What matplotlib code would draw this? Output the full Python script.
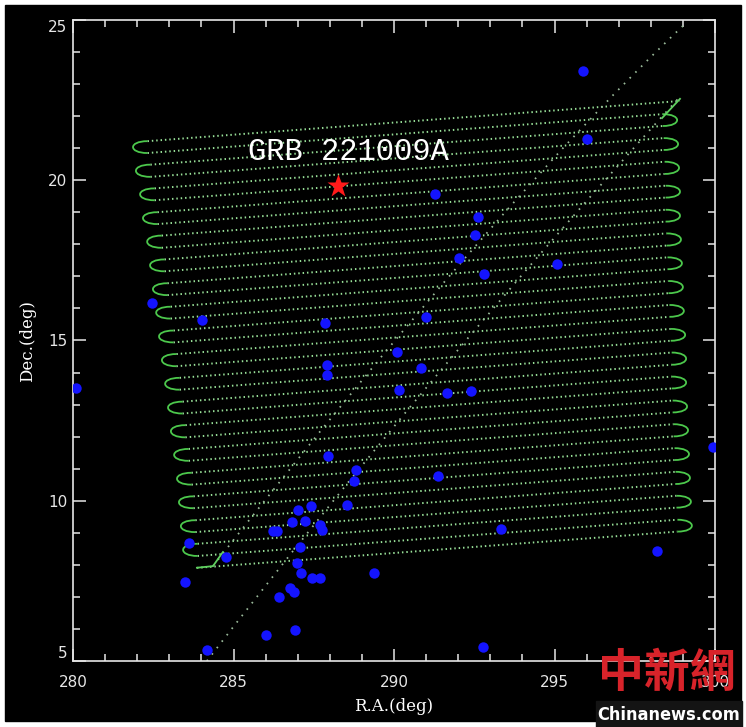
import matplotlib
matplotlib.use("Agg")
import matplotlib.pyplot as plt
from matplotlib.path import Path
from matplotlib.patches import PathPatch, Rectangle
from matplotlib.ticker import MultipleLocator

# scan rows: Dec of each row at R.A. = 290 (rows tilt up to the right)
row_dec = [21.80, 21.43, 21.06, 20.68, 20.31, 19.94, 19.56, 19.19, 18.82,
           18.44, 18.07, 17.70, 17.32, 16.95, 16.58, 16.21, 15.83, 15.46,
           15.09, 14.71, 14.34, 13.97, 13.59, 13.22, 12.85, 12.47, 12.10,
           11.73, 11.35, 10.98, 10.61, 10.24, 9.86, 9.49, 9.12, 8.74, 8.37]
row_tilt = 0.0756

# tip R.A. of the turnarounds (left joins rows 0-1, 2-3 ...; right joins rows 1-2, 3-4 ...)
left_turn_ra = [281.87, 281.96, 282.09, 282.18, 282.31, 282.40, 282.49, 282.59, 282.68,
                282.77, 282.87, 282.96, 283.05, 283.15, 283.24, 283.30, 283.36, 283.43]
right_turn_ra = [298.82, 298.85, 298.88, 298.91, 298.91, 298.94, 298.97, 299.00, 299.03,
                 299.07, 299.10, 299.10, 299.13, 299.16, 299.19, 299.22, 299.25, 299.28]
turn_depth = 0.45
first_row_end = 298.91
last_row_start = 283.86

# slew tracks: start, control, end
slew_a = [(284.36, 7.96), (293.44, 19.58), (299.07, 24.88)]
slew_b = [(284.17, 5.00), (291.10, 14.01), (298.85, 22.54)]
link_in_ra, link_in_dec = [283.86, 284.36, 284.67], [7.91, 7.96, 8.40]
link_out_ra, link_out_dec = [298.35, 298.91], [21.94, 22.54]

# sources
src_ra = [295.89, 296.01, 291.28, 292.62, 292.52, 292.02, 292.80, 295.08, 291.00,
          282.46, 284.02, 287.85, 290.09, 287.91, 287.91, 290.84, 291.65, 292.40,
          290.16, 280.09, 287.94, 288.82, 288.75, 288.54, 291.37, 299.94, 293.33,
          283.61, 284.77, 283.49, 298.19, 289.38, 292.77, 284.17, 286.01, 286.92,
          287.41, 287.01, 286.82, 287.23, 287.69, 287.76, 286.23, 286.36, 287.07,
          286.98, 287.10, 287.45, 287.69, 286.76, 286.88, 286.42]
src_dec = [23.41, 21.29, 19.57, 18.85, 18.29, 17.57, 17.07, 17.39, 15.73,
           16.17, 15.64, 15.55, 14.64, 14.24, 13.92, 14.14, 13.36, 13.42,
           13.46, 13.52, 11.40, 10.96, 10.62, 9.87, 10.77, 11.68, 9.12,
           8.68, 8.24, 7.46, 8.43, 7.75, 5.44, 5.34, 5.81, 5.97,
           9.84, 9.71, 9.34, 9.37, 9.24, 9.09, 9.06, 9.06, 8.56,
           8.06, 7.75, 7.59, 7.59, 7.28, 7.15, 7.00]
grb_ra, grb_dec = 288.26, 19.82


def row_y(k, x):
    return row_dec[k] + row_tilt * (x - 290)


fig = plt.figure(figsize=(7.46, 7.27), dpi=100, facecolor="white")
fig.patches.append(Rectangle((5 / 746, 6 / 727), 736 / 746, 716 / 727,
                             transform=fig.transFigure, color="black", zorder=-5))
ax = fig.add_axes([73 / 746, 66 / 727, 642 / 746, 641 / 727])
ax.set_facecolor("black")
ax.set_xlim(280, 300)
ax.set_ylim(5, 25)

# straight scan rows (dotted)
n = len(row_dec)
for k in range(n):
    xl = last_row_start if k == n - 1 else left_turn_ra[k // 2] + turn_depth
    xr = first_row_end if k == 0 else right_turn_ra[(k - 1) // 2] - turn_depth
    ax.plot([xl, xr], [row_y(k, xl), row_y(k, xr)], color="#98e098", lw=1.4,
            ls=(0, (0.75, 1.5)), zorder=2)

# turnarounds
verts, codes = [], []
d = turn_depth / 0.75
for j, tip in enumerate(left_turn_ra):
    x0 = tip + turn_depth
    y1, y2 = row_y(2 * j, x0), row_y(2 * j + 1, x0)
    verts += [(x0, y1), (x0 - d, y1), (x0 - d, y2), (x0, y2)]
    codes += [Path.MOVETO, Path.CURVE4, Path.CURVE4, Path.CURVE4]
for j, tip in enumerate(right_turn_ra):
    x0 = tip - turn_depth
    y1, y2 = row_y(2 * j + 1, x0), row_y(2 * j + 2, x0)
    verts += [(x0, y1), (x0 + d, y1), (x0 + d, y2), (x0, y2)]
    codes += [Path.MOVETO, Path.CURVE4, Path.CURVE4, Path.CURVE4]
ax.add_patch(PathPatch(Path(verts, codes), fill=False, edgecolor="#4cc84c",
                       lw=1.3, zorder=2))

# slew tracks
for track in (slew_a, slew_b):
    ax.add_patch(PathPatch(Path(track, [Path.MOVETO, Path.CURVE3, Path.CURVE3]),
                           fill=False, edgecolor="#9cbc9c", lw=1.3,
                           ls=(0, (0.9, 3.6)), zorder=2))
ax.plot(link_in_ra, link_in_dec, color="#5fd05f", lw=1.3, zorder=2)
ax.plot(link_out_ra, link_out_dec, color="#5fd05f", lw=1.3, zorder=2)

ax.plot(src_ra, src_dec, "o", color="#1414ff", ms=7.5, mec="none", zorder=3)
ax.plot(grb_ra, grb_dec, "*", color="#ff1a1a", ms=17, mec="none", zorder=4)
ax.text(285.45, 20.63, "GRB 221009A", color="white", fontsize=22,
        family="Liberation Mono", va="baseline", zorder=5)

# axes styling
for s in ax.spines.values():
    s.set_color("#e6e6e6")
    s.set_linewidth(1.2)
ax.set_xticks(range(280, 301, 5))
ax.set_yticks(range(5, 26, 5))
ax.xaxis.set_minor_locator(MultipleLocator(1))
ax.yaxis.set_minor_locator(MultipleLocator(1))
ax.tick_params(which="both", direction="in", top=True, right=True,
               colors="#e6e6e6", width=1.1, labelsize=11)
ax.tick_params(which="major", length=9)
ax.tick_params(which="minor", length=5)
ax.tick_params(axis="x", pad=10)
ax.tick_params(axis="y", pad=4)
ylabels = ax.get_yticklabels()
ylabels[0].set_verticalalignment("bottom")
ylabels[-1].set_verticalalignment("top")
ax.set_xlabel("R.A.(deg)", color="white", family="DejaVu Serif", fontsize=12,
              labelpad=6)
ax.set_ylabel("Dec.(deg)", color="white", family="DejaVu Serif", fontsize=12,
              labelpad=9)

# source watermark
fig.patches.append(Rectangle((596 / 746, 0), 146 / 746, 26 / 727,
                             transform=fig.transFigure, color="#141414", zorder=9))
fig.text(667 / 746, 1 - 674 / 727, "中新網", color="#d8232a", fontsize=33,
         family="Noto Sans CJK TC", weight="bold", ha="center", va="center",
         zorder=10)
fig.text(669 / 746, 1 - 715 / 727, "Chinanews.com", color="white", fontsize=13,
         family="DejaVu Sans", fontstretch="condensed", weight="bold",
         ha="center", va="center", zorder=10)

fig.savefig("out.png", dpi=100, facecolor=fig.get_facecolor())
